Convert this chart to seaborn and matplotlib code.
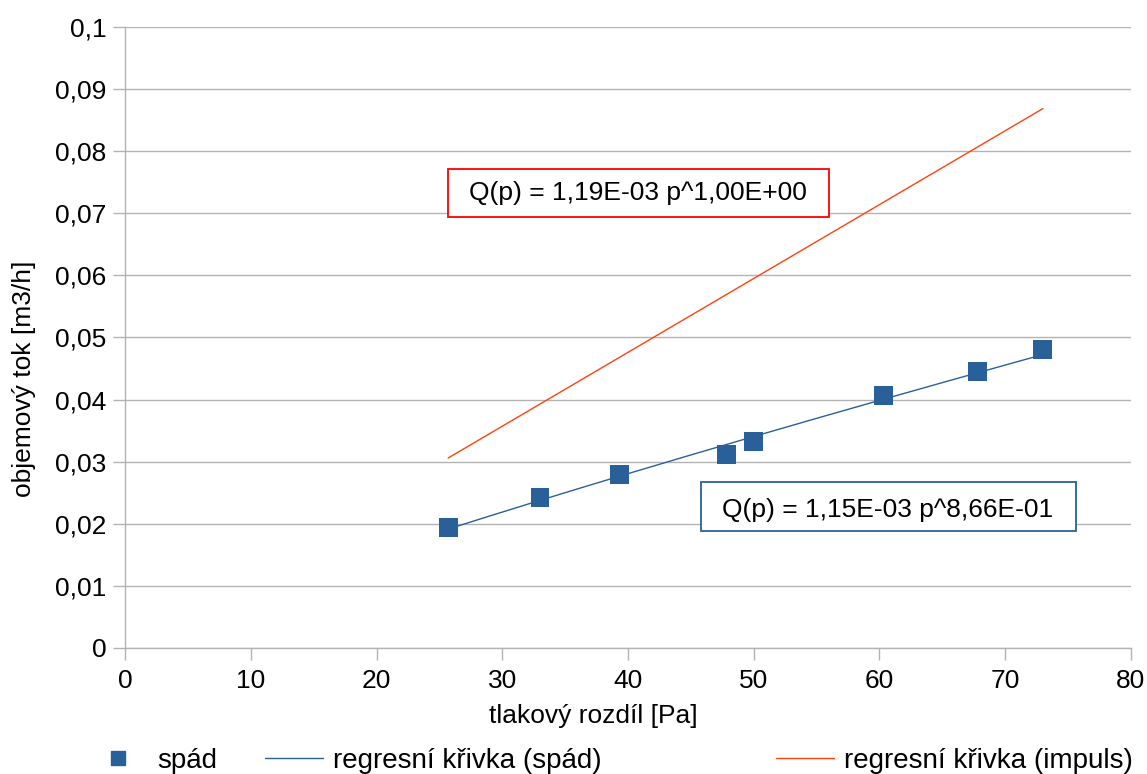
import numpy as np
import pandas as pd
import matplotlib
matplotlib.use("Agg")
import matplotlib.pyplot as plt
from matplotlib.ticker import FuncFormatter, MultipleLocator
from matplotlib.lines import Line2D
from matplotlib.patches import Rectangle
import seaborn as sns

# Measured points (spád)
pressure = [25.7, 33.0, 39.35, 47.8, 50.0, 60.35, 67.8, 73.0]
flow = [0.0194, 0.0242, 0.0279, 0.0312, 0.0333, 0.0407, 0.0445, 0.0481]

# Power-law regression coefficients Q(p) = a * p^b
coef_spad = (1.15e-3, 0.866)
coef_impuls = (1.19e-3, 1.00)

label_points = "spád"
label_fit_spad = "regresní křivka (spád)"
label_fit_impuls = "regresní křivka (impuls)"
eq_spad = "Q(p) = 1,15E-03 p^8,66E-01"
eq_impuls = "Q(p) = 1,19E-03 p^1,00E+00"

x_ticks = [0, 10, 20, 30, 40, 50, 60, 70, 80]

blue = "#2a6099"
orange = "#ff420e"
grid_grey = "#b3b3b3"
FS = 19
FS_LEG = 20

sns.set_theme(style="white")
plt.rcParams["font.family"] = ["Liberation Sans", "DejaVu Sans"]
plt.rcParams["text.color"] = "black"
plt.rcParams["axes.labelcolor"] = "black"

fig = plt.figure(figsize=(11.47, 7.74), dpi=100)
ax = fig.add_axes([0.109, 0.163, 0.877, 0.802])

pts = pd.DataFrame({"p": pressure, "q": flow})
p_fit = np.linspace(min(pressure), max(pressure), 200)
fit_spad = pd.DataFrame({"p": p_fit, "q": coef_spad[0] * p_fit ** coef_spad[1]})
fit_imp = pd.DataFrame({"p": p_fit, "q": coef_impuls[0] * p_fit ** coef_impuls[1]})

sns.lineplot(data=fit_imp, x="p", y="q", ax=ax, color=orange, linewidth=1.0, zorder=3)
sns.lineplot(data=fit_spad, x="p", y="q", ax=ax, color=blue, linewidth=1.0, zorder=4)
sns.scatterplot(data=pts, x="p", y="q", ax=ax, marker="s", s=185, color=blue,
                edgecolor="none", zorder=5)

ax.set_xlim(0, 80)
ax.set_ylim(0, 0.1)
ax.set_xticks(x_ticks)
ax.yaxis.set_major_locator(MultipleLocator(0.01))
ax.yaxis.set_major_formatter(FuncFormatter(lambda v, _: f"{round(v, 4):g}".replace(".", ",")))
ax.grid(axis="y", color=grid_grey, linewidth=1)
ax.grid(axis="x", visible=False)
ax.set_axisbelow(True)
for s in ["top", "right"]:
    ax.spines[s].set_visible(False)
for s in ["left", "bottom"]:
    ax.spines[s].set_color(grid_grey)
    ax.spines[s].set_linewidth(1)
ax.tick_params(axis="both", which="major", length=8.4, width=1, color=grid_grey,
               labelsize=FS, labelcolor="black", direction="out",
               bottom=True, left=True)
ax.tick_params(axis="y", pad=5)
ax.tick_params(axis="x", pad=7)

ax.set_xlabel("tlakový rozdíl [Pa]", fontsize=FS, color="black")
ax.set_ylabel("objemový tok [m3/h]", fontsize=FS, color="black")
ax.xaxis.set_label_coords(0.466, -0.1095)
ax.xaxis.label.set_va("center")
ax.yaxis.set_label_coords(-0.1004, 0.433)
ax.yaxis.label.set_va("center")

# Equation boxes
W, H = 1147.0, 774.0


def eq_box(x0, y0, x1, y1, text, cx, baseline, edge):
    fig.patches.append(Rectangle((x0 / W, 1 - y1 / H), (x1 - x0) / W, (y1 - y0) / H,
                                 transform=fig.transFigure, facecolor="white",
                                 edgecolor=edge, linewidth=1.3, zorder=6))
    fig.text(cx / W, 1 - baseline / H, text, fontsize=FS, ha="center", va="baseline",
             color="black", zorder=7)


eq_box(448, 169, 829, 217, eq_impuls, 638, 200, "#ff0000")
eq_box(701, 482, 1076, 531, eq_spad, 888, 517, blue)

# Legend entries laid out along the bottom edge
h_pts = Line2D([], [], marker="s", linestyle="none", color=blue, markersize=10.3)
h_spad = Line2D([], [], color=blue, linewidth=1.0)
h_imp = Line2D([], [], color=orange, linewidth=1.0)
common = dict(frameon=False, fontsize=FS_LEG, loc="center left", borderpad=0,
              borderaxespad=0, labelcolor="black")
y_leg = 1 - 761 / H
fig.legend([h_pts], [label_points], bbox_to_anchor=(104 / W, y_leg),
           handlelength=1.0, handletextpad=0.9, **common)
fig.legend([h_spad], [label_fit_spad], bbox_to_anchor=(265 / W, y_leg),
           handlelength=2.1, handletextpad=0.36, **common)
fig.legend([h_imp], [label_fit_impuls], bbox_to_anchor=(776 / W, y_leg),
           handlelength=2.1, handletextpad=0.36, **common)

fig.savefig("out.png", dpi=100)
